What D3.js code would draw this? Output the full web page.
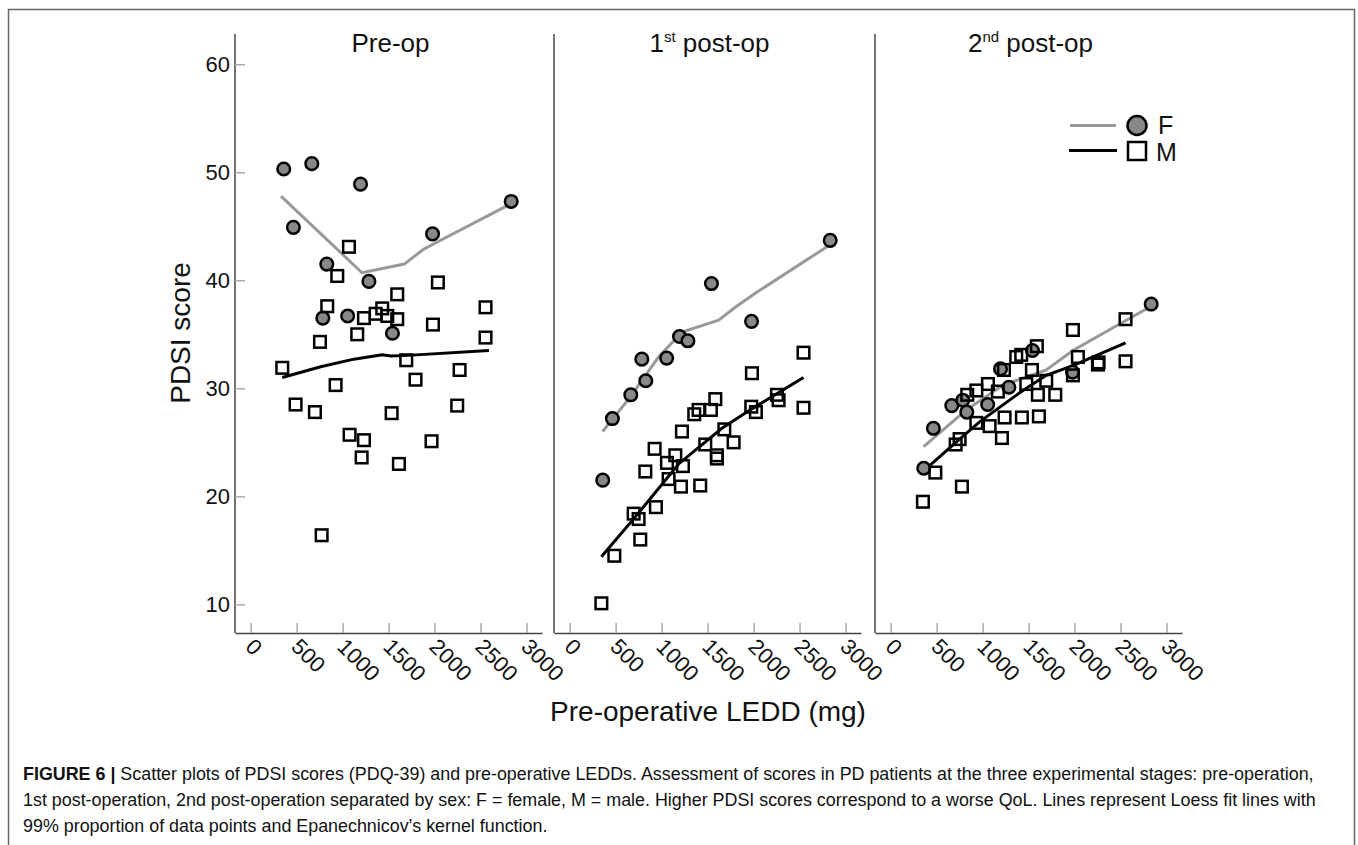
<!DOCTYPE html>
<html>
<head>
<meta charset="utf-8">
<script src="https://cdn.jsdelivr.net/npm/d3@7"></script>
<style>
body { margin: 0; background: #fff; }
svg text { font-family: "Liberation Sans", Arial, Helvetica, sans-serif; fill: #111; }
</style>
</head>
<body>
<div id="chart"></div>
<script>
// panel titles (number, superscript, rest)
var titleLead = ["Pre-op", "1", "2"];
var titleSup = ["", "st", "nd"];
var titleTail = ["", " post-op", " post-op"];

var xTicks = [0, 500, 1000, 1500, 2000, 2500, 3000];
var yTicks = [10, 20, 30, 40, 50, 60];

// females: pre-operative LEDD (mg), same patients in every panel
var femaleLEDD  = [360, 465, 665, 785, 828, 1055, 1195, 1286, 1542, 1978, 2833];
var femalePre   = [50.3, 44.9, 50.8, 36.5, 41.5, 36.7, 48.9, 39.9, 35.1, 44.3, 47.3];
var femalePost1 = [21.5, 27.2, 29.4, 32.7, 30.7, 32.8, 34.8, 34.4, 39.7, 36.2, 43.7];
var femalePost2 = [22.6, 26.3, 28.4, 28.9, 27.8, 28.5, 31.8, 30.1, 33.5, 31.5, 37.8];

// males, read panel by panel
var malePreLEDD = [344, 489, 699, 754, 772, 833, 924, 942, 1069, 1076, 1159, 1207, 1232, 1232, 1359,
  1431, 1486, 1533, 1594, 1594, 1612, 1692, 1793, 1967, 1982, 2036, 2246, 2272, 2554, 2554];
var malePre = [31.9, 28.5, 27.8, 34.3, 16.4, 37.6, 30.3, 40.4, 43.1, 25.7, 35.0, 23.6, 36.5, 25.2, 36.9,
  37.4, 36.7, 27.7, 38.7, 36.4, 23.0, 32.6, 30.8, 25.1, 35.9, 39.8, 28.4, 31.7, 37.5, 34.7];

var malePost1LEDD = [345, 486, 696, 750, 768, 823, 924, 938, 1058, 1076, 1149, 1210, 1221, 1232, 1355,
  1402, 1420, 1475, 1536, 1584, 1601, 1601, 1682, 1783, 1975, 1982, 2025, 2254, 2272, 2543, 2543];
var malePost1 = [10.1, 14.5, 18.4, 17.9, 16.0, 22.3, 24.4, 19.0, 23.1, 21.6, 23.8, 20.9, 26.0, 22.8, 27.6,
  28.0, 21.0, 24.8, 28.0, 29.0, 23.8, 23.5, 26.2, 25.0, 28.3, 31.4, 27.8, 29.4, 28.9, 33.3, 28.2];

var malePost2LEDD = [351, 486, 707, 750, 775, 833, 932, 932, 1058, 1076, 1166, 1210, 1232, 1239, 1366,
  1420, 1427, 1475, 1536, 1590, 1601, 1612, 1692, 1790, 1982, 1982, 2036, 2254, 2261, 2554, 2554];
var malePost2 = [19.5, 22.2, 24.8, 25.3, 20.9, 29.4, 29.8, 26.8, 30.4, 26.5, 29.7, 25.4, 31.7, 27.3, 32.9,
  33.1, 27.3, 30.4, 31.7, 33.9, 29.4, 27.4, 30.7, 29.4, 35.4, 31.2, 32.9, 32.2, 32.4, 36.4, 32.5];

// loess fit lines
var fitFPreX = [330, 1210, 1670, 1884, 2833];
var fitFPreY = [47.8, 40.7, 41.5, 42.9, 47.1];
var fitMPreX = [344, 761, 1123, 1431, 1522, 1710, 2591];
var fitMPreY = [31.0, 32.0, 32.7, 33.1, 33.0, 33.05, 33.5];
var fitFPost1X = [359, 660, 967, 1221, 1620, 1801, 2018, 2815];
var fitFPost1Y = [26.0, 29.2, 32.9, 35.2, 36.3, 37.5, 38.8, 43.2];
var fitMPost1X = [345, 714, 1185, 1656, 1982, 2543];
var fitMPost1Y = [14.4, 18.1, 23.0, 26.3, 28.1, 31.0];
var fitFPost2X = [359, 823, 1221, 1692, 1982, 2562, 2833];
var fitFPost2Y = [24.6, 28.0, 30.3, 31.7, 33.5, 36.3, 37.6];
var fitMPost2X = [405, 750, 967, 1438, 1692, 1982, 2554];
var fitMPost2Y = [22.7, 25.3, 26.9, 29.8, 31.2, 32.1, 34.2];

var captionLines = [
  ["FIGURE 6 |", " Scatter plots of PDSI scores (PDQ-39) and pre-operative LEDDs. Assessment of scores in PD patients at the three experimental stages: pre-operation,"],
  ["", "1st post-operation, 2nd post-operation separated by sex: F = female, M = male. Higher PDSI scores correspond to a worse QoL. Lines represent Loess fit lines with"],
  ["", "99% proportion of data points and Epanechnicov\u2019s kernel function."]
];

function zip(xs, ys) { return xs.map(function(x, i) { return [x, ys[i]]; }); }

var panels = [
  {f: zip(femaleLEDD, femalePre), m: zip(malePreLEDD, malePre),
   fitF: zip(fitFPreX, fitFPreY), fitM: zip(fitMPreX, fitMPreY)},
  {f: zip(femaleLEDD, femalePost1), m: zip(malePost1LEDD, malePost1),
   fitF: zip(fitFPost1X, fitFPost1Y), fitM: zip(fitMPost1X, fitMPost1Y)},
  {f: zip(femaleLEDD, femalePost2), m: zip(malePost2LEDD, malePost2),
   fitF: zip(fitFPost2X, fitFPost2Y), fitM: zip(fitMPost2X, fitMPost2Y)}
];

var W = 1358, H = 845;
var panelLeft = [235, 554, 875], panelW = 307;
var plotTop = 34, plotBottom = 633;

var svg = d3.select("#chart").append("svg")
    .attr("width", W)
    .attr("height", H);

// outer frame
svg.append("rect")
    .attr("x", 8.5).attr("y", 9.5)
    .attr("width", 1346).attr("height", 860)
    .attr("fill", "none")
    .attr("stroke", "#666")
    .attr("stroke-width", 1.5);

var x = d3.scaleLinear().domain([-170, 3168]).range([0, panelW]);
var y = d3.scaleLinear().domain([7.35, 62.8]).range([plotBottom, plotTop]);

var line = d3.line()
    .x(function(d) { return x(d[0]); })
    .y(function(d) { return y(d[1]); });

panels.forEach(function(p, i) {
  var g = svg.append("g").attr("transform", "translate(" + panelLeft[i] + ",0)");

  // bottom axis, ticks pointing up
  var xa = g.append("g")
      .attr("transform", "translate(0," + plotBottom + ")")
      .call(d3.axisBottom(x).tickValues(xTicks).tickFormat(d3.format("d"))
        .tickSizeInner(-10).tickSizeOuter(0));
  xa.select(".domain").attr("stroke", "#444").attr("stroke-width", 1.5);
  xa.selectAll(".tick line").attr("stroke", "#aaa").attr("stroke-width", 1.5);
  xa.selectAll("text")
      .attr("y", null).attr("dy", null)
      .attr("text-anchor", "start")
      .attr("transform", "translate(-7,15) rotate(45)")
      .style("font-size", "22px")
      .attr("fill", "#111");

  // left vertical line
  g.append("line")
      .attr("x1", 0).attr("x2", 0)
      .attr("y1", plotTop).attr("y2", plotBottom)
      .attr("stroke", "#444").attr("stroke-width", 1.5);

  if (i === 0) {
    var ya = g.append("g")
        .call(d3.axisLeft(y).tickValues(yTicks).tickSizeInner(-10).tickSizeOuter(0).tickPadding(5));
    ya.select(".domain").remove();
    ya.selectAll(".tick line").attr("stroke", "#aaa").attr("stroke-width", 1.5);
    ya.selectAll("text").style("font-size", "22px").attr("fill", "#111");
  }

  // title
  var t = g.append("text")
      .attr("x", panelW / 2 + 2)
      .attr("y", 52)
      .attr("text-anchor", "middle")
      .style("font-size", "26px");
  t.append("tspan").text(titleLead[i]);
  if (titleSup[i]) {
    t.append("tspan").attr("dy", -10).style("font-size", "15px").text(titleSup[i]);
    t.append("tspan").attr("dy", 10).text(titleTail[i]);
  }

  // loess lines
  g.append("path").datum(p.fitF)
      .attr("d", line).attr("fill", "none")
      .attr("stroke", "#999").attr("stroke-width", 3);
  g.append("path").datum(p.fitM)
      .attr("d", line).attr("fill", "none")
      .attr("stroke", "#000").attr("stroke-width", 3);

  // points
  g.selectAll(".f").data(p.f).enter().append("circle")
      .attr("class", "f")
      .attr("cx", function(d) { return x(d[0]); })
      .attr("cy", function(d) { return y(d[1]); })
      .attr("r", 6.3)
      .attr("fill", "#888")
      .attr("stroke", "#000").attr("stroke-width", 2.5);
  g.selectAll(".m").data(p.m).enter().append("rect")
      .attr("class", "m")
      .attr("x", function(d) { return x(d[0]) - 5.8; })
      .attr("y", function(d) { return y(d[1]) - 5.8; })
      .attr("width", 11.6).attr("height", 11.6)
      .attr("fill", "none")
      .attr("stroke", "#000").attr("stroke-width", 2.5);
});

// legend
var lg = svg.append("g");
lg.append("line").attr("x1", 1070).attr("x2", 1116).attr("y1", 125.5).attr("y2", 125.5)
    .attr("stroke", "#999").attr("stroke-width", 3);
lg.append("line").attr("x1", 1069).attr("x2", 1117).attr("y1", 150.5).attr("y2", 150.5)
    .attr("stroke", "#000").attr("stroke-width", 3);
lg.append("circle").attr("cx", 1137).attr("cy", 125.5).attr("r", 9.5)
    .attr("fill", "#888").attr("stroke", "#000").attr("stroke-width", 2.5);
lg.append("rect").attr("x", 1128).attr("y", 142).attr("width", 18).attr("height", 18)
    .attr("fill", "none").attr("stroke", "#000").attr("stroke-width", 2.5);
lg.append("text").attr("x", 1158).attr("y", 134).style("font-size", "25px").text("F");
lg.append("text").attr("x", 1156).attr("y", 161).style("font-size", "25px").text("M");

// axis titles
svg.append("text")
    .attr("transform", "translate(190,333) rotate(-90)")
    .attr("text-anchor", "middle")
    .style("font-size", "28px")
    .text("PDSI score");
svg.append("text")
    .attr("x", 708).attr("y", 721)
    .attr("text-anchor", "middle")
    .style("font-size", "28px")
    .text("Pre-operative LEDD (mg)");

// caption
var cap = svg.append("g");
var capSize = 17;
captionLines.forEach(function(l, i) {
  var tx = cap.append("text")
      .attr("class", "cap")
      .attr("x", 23).attr("y", 780 + i * 26)
      .style("font-size", capSize + "px")
      .attr("fill", "#222");
  if (l[0]) tx.append("tspan").style("font-weight", "bold").text(l[0]);
  tx.append("tspan").text(l[1]);
});
// fit the first caption line to its width in the figure
var w0 = cap.select("text").node().getComputedTextLength();
var s = capSize * 1292 / w0;
cap.selectAll("text").style("font-size", s + "px");
</script>
</body>
</html>
